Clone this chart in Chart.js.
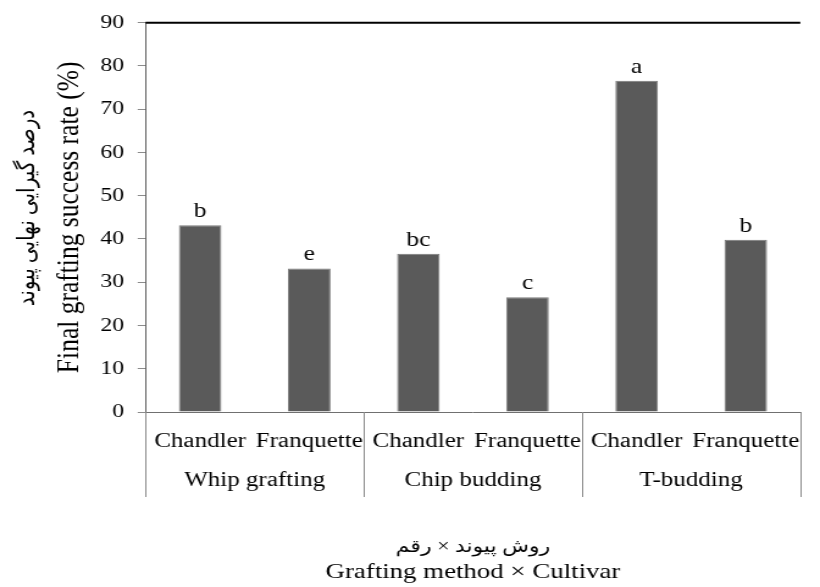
<!DOCTYPE html>
<html>
<head>
<meta charset="utf-8">
<script src="https://cdn.jsdelivr.net/npm/chart.js@4/dist/chart.umd.min.js"></script>
<style>
  html, body { margin: 0; padding: 0; background: #fff; overflow: hidden; }
  #wrap { width: 820px; height: 587px; overflow: hidden; }
  /* the figure is laid out at 672px and widened to the 820px frame */
  #c { display: block; transform-origin: 0 0; transform: scaleX(1.2202); }
</style>
</head>
<body>
<div id="wrap"><canvas id="c" width="672" height="587"></canvas></div>
<script>
// Cultivar under each bar, grafting method under each pair
const cultivarLabels = ['Chandler', 'Franquette', 'Chandler', 'Franquette', 'Chandler', 'Franquette'];
const methodLabels = ['Whip grafting', 'Chip budding', 'T-budding'];
// Final grafting success rate (%)
const successRate = [43.2, 33.2, 36.6, 26.5, 76.6, 39.8];
// Mean separation letters
const groupLetters = ['b', 'e', 'bc', 'c', 'a', 'b'];
// Value axis
const yMin = 0, yMax = 90, yStep = 10;
// Axis titles (Persian line above / left of the English one)
const xTitleFa = 'روش پیوند × رقم';
const xTitleEn = 'Grafting method × Cultivar';
const yTitleFa = 'درصد گیرایی نهایی پیوند';
const yTitleEn = 'Final grafting success rate (%)';

const serif = "'Liberation Serif', 'Times New Roman', 'DejaVu Sans', serif";
const perMethod = cultivarLabels.length / methodLabels.length;

const annotate = {
  id: 'annotate',
  afterDraw(chart) {
    const { ctx, chartArea: a, scales: { x } } = chart;
    const meta = chart.getDatasetMeta(0);
    ctx.save();

    // letters above the bars
    ctx.font = '21px ' + serif;
    ctx.fillStyle = '#000';
    ctx.textAlign = 'center';
    ctx.textBaseline = 'alphabetic';
    meta.data.forEach((bar, i) => ctx.fillText(groupLetters[i], bar.x, bar.y - 8));

    // frame line along the top of the plot
    ctx.strokeStyle = '#000';
    ctx.lineWidth = 2;
    ctx.beginPath();
    ctx.moveTo(a.left, a.top);
    ctx.lineTo(a.right, a.top);
    ctx.stroke();

    // method separators and method names
    const step = (x.right - x.left) / cultivarLabels.length;
    ctx.strokeStyle = '#8c8c8c';
    ctx.lineWidth = 1;
    for (let g = 0; g <= methodLabels.length; g++) {
      const px = Math.round(x.left + g * perMethod * step) + 0.5;
      ctx.beginPath();
      ctx.moveTo(px, a.bottom);
      ctx.lineTo(px, 497);
      ctx.stroke();
    }
    ctx.font = '20.5px ' + serif;
    ctx.textBaseline = 'middle';
    methodLabels.forEach((m, g) => {
      const cx = x.left + (g + 0.5) * perMethod * step;
      ctx.fillText(m, cx, 481);
    });

    // Persian lines of the axis titles
    ctx.font = '18px ' + serif;
    ctx.fillText(xTitleFa, (a.left + a.right) / 2, 547);
    ctx.translate(23, 208);
    ctx.rotate(-Math.PI / 2);
    ctx.font = '20px ' + serif;
    ctx.fillText(yTitleFa, 0, 0);
    ctx.restore();
  }
};

new Chart(document.getElementById('c'), {
  type: 'bar',
  data: {
    labels: cultivarLabels,
    datasets: [{
      data: successRate,
      backgroundColor: '#5a5a5a',
      borderColor: '#7a7a7a',
      borderWidth: 1,
      barPercentage: 0.39,
      categoryPercentage: 1
    }]
  },
  options: {
    responsive: false,
    animation: false,
    layout: { padding: { top: 20, right: 0, bottom: 0, left: 0 } },
    plugins: { legend: { display: false }, tooltip: { enabled: false } },
    scales: {
      x: {
        grid: { display: false, drawTicks: false },
        border: { display: true, color: '#707070', width: 1 },
        ticks: { color: '#000', font: { family: serif, size: 20.5 }, padding: 17, maxRotation: 0, autoSkip: false },
        title: {
          display: true,
          text: xTitleEn,
          color: '#000',
          font: { family: serif, size: 22, lineHeight: 1.2 },
          padding: { top: 0, bottom: 2 }
        },
        afterFit(s) { s.height = 175; }
      },
      y: {
        min: yMin,
        max: yMax,
        ticks: { stepSize: yStep, color: '#000', font: { family: serif, size: 19.5 }, padding: 11 },
        grid: { drawOnChartArea: false, drawTicks: true, tickLength: 6.5, color: '#8c8c8c' },
        border: { display: true, color: '#606060', width: 1 },
        title: {
          display: true,
          text: yTitleEn,
          color: '#000',
          font: { family: serif, size: 25.5, lineHeight: 1.2 },
          padding: { top: 42, bottom: 0 }
        },
        afterFit(s) { s.width = 119.3; }
      }
    }
  },
  plugins: [annotate]
});
</script>
</body>
</html>
